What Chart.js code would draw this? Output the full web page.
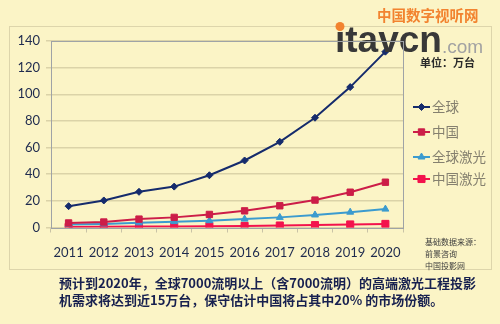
<!DOCTYPE html>
<html>
<head>
<meta charset="utf-8">
<script src="https://cdn.jsdelivr.net/npm/chart.js@4/dist/chart.umd.min.js"></script>
<style>
  html, body { margin: 0; padding: 0; background: #fbf4c6; }
  #wrap { position: relative; width: 500px; height: 324px; }
</style>
</head>
<body>
<div id="wrap"><canvas id="c" width="500" height="324"></canvas></div>
<script>
// Years on the x axis
const years = ['2011', '2012', '2013', '2014', '2015', '2016', '2017', '2018', '2019', '2020'];
// Demand, in units of 10,000 projectors
const globalTotal = [16, 20.3, 26.8, 30.7, 39.2, 50.3, 64.3, 82.4, 105.4, 132];
const chinaTotal = [3.4, 4.1, 6.3, 7.6, 9.8, 12.5, 16.3, 20.6, 26.5, 34];
const globalLaser = [2.2, 2.7, 3.5, 4.4, 5.1, 6.3, 7.6, 9.4, 11.5, 13.8];
const chinaLaser = [0.4, 0.5, 0.7, 0.8, 1.0, 1.2, 1.5, 1.8, 2.3, 2.7];
const seriesNames = ['全球', '中国', '全球激光', '中国激光'];
const yTicks = [0, 20, 40, 60, 80, 100, 120, 140];

const BG = '#fbf4c6';
const NAVY = '#152b6c';
const CRIMSON = '#cc1d48';
const SKY = '#3b9bcf';
const RED = '#f3124c';

// Page background, outer frame and plot border
const framePlugin = {
  id: 'frame',
  beforeDraw(chart) {
    const ctx = chart.ctx;
    ctx.save();
    ctx.fillStyle = BG;
    ctx.fillRect(0, 0, chart.width, chart.height);
    ctx.strokeStyle = '#ddd5ab';
    ctx.lineWidth = 1;
    ctx.strokeRect(9.5, 26.5, 482, 243);
    ctx.restore();
  },
  afterDraw(chart) {
    const ctx = chart.ctx;
    const a = chart.chartArea;
    ctx.save();
    ctx.strokeStyle = '#9fa3a6';
    ctx.lineWidth = 1;
    ctx.strokeRect(Math.round(a.left) + 0.5, Math.round(a.top) + 0.5,
                   Math.round(a.right - a.left), Math.round(a.bottom - a.top));
    ctx.restore();
  }
};

// Legend on the right, unit label, source note, caption and site mark
const extrasPlugin = {
  id: 'extras',
  afterDatasetsDraw(chart) {
    const ctx = chart.ctx;
    ctx.save();

    // legend
    const rows = [107, 132, 157, 179];
    chart.data.datasets.forEach((ds, i) => {
      const y = rows[i];
      ctx.strokeStyle = ds.borderColor;
      ctx.fillStyle = ds.backgroundColor;
      ctx.lineWidth = 2;
      ctx.beginPath();
      ctx.moveTo(413, y);
      ctx.lineTo(430, y);
      ctx.stroke();
      ctx.lineWidth = 1;
      Chart.helpers.drawPoint(ctx, {
        pointStyle: ds.pointStyle,
        radius: ds.pointRadius,
        borderWidth: 1
      }, 421.5, y);
      ctx.fillStyle = '#85806f';
      ctx.font = '13.5px "Noto Sans CJK SC"';
      ctx.textAlign = 'left';
      ctx.textBaseline = 'middle';
      ctx.fillText(ds.label, 432, y);
    });

    // unit
    ctx.fillStyle = '#2a2a2a';
    ctx.font = 'bold 11px "Noto Sans CJK SC"';
    ctx.textAlign = 'left';
    ctx.textBaseline = 'middle';
    ctx.fillText('单位：万台', 420, 63);

    // data source
    ctx.fillStyle = '#3c3c3c';
    ctx.font = '8px "Noto Sans CJK SC"';
    ctx.fillText('基础数据来源：', 425, 242);
    ctx.fillText('前景咨询', 425, 254);
    ctx.fillText('中国投影网', 425, 266);

    // caption
    ctx.fillStyle = '#17204f';
    ctx.font = 'bold 13px "Noto Sans CJK SC"';
    ctx.fillText('预计到2020年，全球7000流明以上（含7000流明）的高端激光工程投影', 59, 283);
    ctx.fillText('机需求将达到近15万台，保守估计中国将占其中20% 的市场份额。', 59, 300);

    // site mark
    ctx.fillStyle = '#f2832f';
    ctx.font = 'bold 14.5px "Noto Sans CJK SC"';
    ctx.fillText('中国数字视听网', 377, 15);
    ctx.fillStyle = '#383838';
    ctx.font = 'bold 37px "Liberation Sans"';
    ctx.textBaseline = 'alphabetic';
    ctx.fillText('\u0131tavcn', 335, 52);
    ctx.fillStyle = '#f2832f';
    ctx.beginPath();
    ctx.arc(340, 26.5, 4.5, 0, Math.PI * 2);
    ctx.fill();
    ctx.fillStyle = '#a2a2a2';
    ctx.font = '19px "Liberation Sans"';
    ctx.fillText('.com', 442, 53);

    ctx.restore();
  }
};

const mk = (label, data, color, style, r) => ({
  label, data,
  borderColor: color,
  backgroundColor: color,
  pointBackgroundColor: color,
  pointBorderColor: color,
  pointStyle: style,
  pointRadius: r,
  pointBorderWidth: 1,
  borderWidth: 2,
  tension: 0,
  fill: false
});

new Chart(document.getElementById('c'), {
  type: 'line',
  data: {
    labels: years,
    datasets: [
      mk(seriesNames[0], globalTotal, NAVY, 'rectRot', 3.5),
      mk(seriesNames[1], chinaTotal, CRIMSON, 'rect', 4.5),
      mk(seriesNames[2], globalLaser, SKY, 'triangle', 4),
      mk(seriesNames[3], chinaLaser, RED, 'rect', 5)
    ]
  },
  options: {
    responsive: false,
    animation: false,
    layout: { padding: { left: 0, right: 97, top: 41, bottom: 0 } },
    plugins: {
      legend: { display: false },
      tooltip: { enabled: false }
    },
    scales: {
      x: {
        type: 'category',
        offset: true,
        border: { display: false },
        grid: {
          offset: true,
          drawOnChartArea: false,
          drawTicks: true,
          tickLength: 5,
          color: '#c9c3a6'
        },
        ticks: {
          color: '#1e2a4e',
          font: { family: 'Lato', size: 13 },
          padding: 13,
          maxRotation: 0
        },
        afterFit(s) { s.height = 96.5; }
      },
      y: {
        min: 0,
        max: 140,
        border: { display: false },
        grid: {
          color: '#dbd3a8',
          tickLength: 5,
          lineWidth: 1.5
        },
        afterBuildTicks(s) { s.ticks = yTicks.map(v => ({ value: v })); },
        ticks: {
          color: '#1e2a4e',
          font: { family: 'Lato', size: 13 },
          padding: 6
        },
        afterFit(s) { s.width = 51; }
      }
    }
  },
  plugins: [framePlugin, extrasPlugin]
});
</script>
</body>
</html>
